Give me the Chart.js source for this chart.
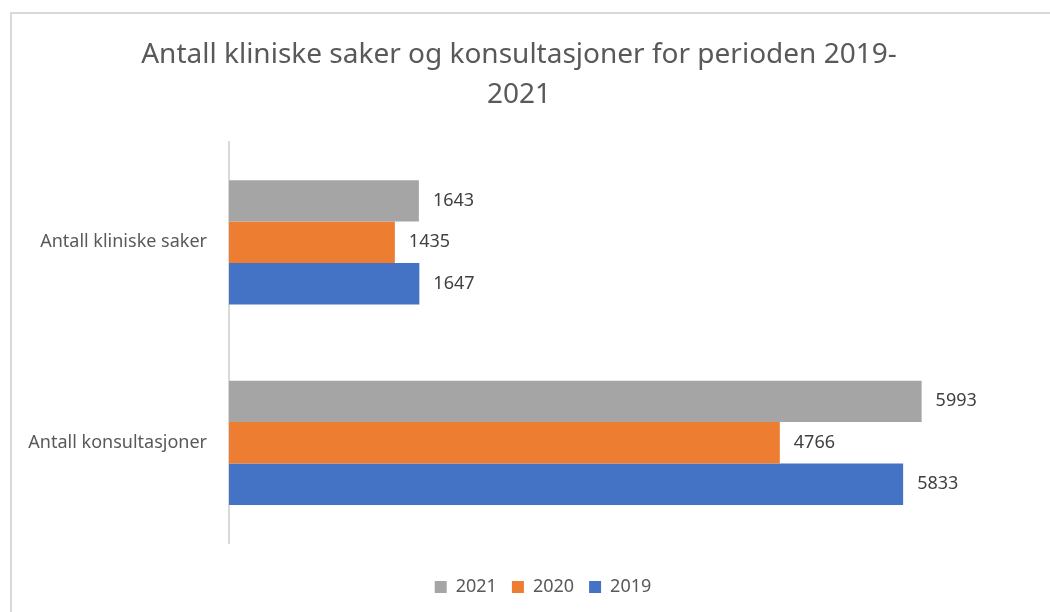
<!DOCTYPE html>
<html lang="no">
  <head>
    <meta charset="UTF-8" />
    <script src="https://cdn.jsdelivr.net/npm/chart.js"></script>
    <title>Antall kliniske saker og konsultasjoner</title>
    <style>
      html, body { margin: 0; padding: 0; background: #fff; overflow: hidden; }
      #wrap { position: absolute; left: 0; top: 0; width: 1050px; height: 612px; }
      #frame {
        position: absolute; left: 10px; top: 12px; width: 1060px; height: 620px;
        border-left: 2px solid #d9d9d9; border-top: 2px solid #d9d9d9;
        pointer-events: none;
      }
    </style>
  </head>
  <body>
    <div id="wrap"><canvas id="myChart"></canvas></div>
    <div id="frame"></div>

    <script>
      const categories = ["Antall kliniske saker", "Antall konsultasjoner"];
      const years = ["2021", "2020", "2019"];
      const values2021 = [1643, 5993];
      const values2020 = [1435, 4766];
      const values2019 = [1647, 5833];
      const titleLines = ["Antall kliniske saker og konsultasjoner for perioden 2019-", "2021"];

      const textColor = "#595959";

      // draws the value next to the end of every bar
      const barValues = {
        id: "barValues",
        afterDatasetsDraw(chart) {
          const ctx = chart.ctx;
          ctx.save();
          ctx.font = "18px 'Noto Sans'";
          ctx.fillStyle = "#404040";
          ctx.textAlign = "left";
          ctx.textBaseline = "middle";
          chart.data.datasets.forEach((ds, i) => {
            chart.getDatasetMeta(i).data.forEach((bar, j) => {
              ctx.fillText(ds.data[j], bar.x + 14, bar.y);
            });
          });
          ctx.restore();
        },
      };

      // legend sits a bit right of the canvas centre in the original
      const legendShift = {
        id: "legendShift",
        afterLayout(chart) {
          if (chart.legend) chart.legend.left += 48;
        },
      };

      const ctx = document.getElementById("myChart");

      new Chart(ctx, {
        type: "bar",
        data: {
          labels: categories,
          datasets: [
            { label: years[0], data: values2021, backgroundColor: "#a5a5a5" },
            { label: years[1], data: values2020, backgroundColor: "#ed7d31" },
            { label: years[2], data: values2019, backgroundColor: "#4472c4" },
          ],
        },
        options: {
          indexAxis: "y",
          responsive: true,
          maintainAspectRatio: false,
          animation: false,
          categoryPercentage: 0.62,
          barPercentage: 1.0,
          layout: { padding: { left: 0, right: 12, top: 0, bottom: 6 } },
          scales: {
            x: {
              // hidden axis, only used to keep a gap above the legend
              min: 0,
              max: 7000,
              grid: { display: false, drawTicks: false },
              border: { display: false },
              ticks: { display: false },
              afterFit: (scale) => {
                scale.height = 20;
              },
            },
            y: {
              grid: { display: false, drawTicks: false },
              border: { display: true, color: "#d9d9d9", width: 2 },
              ticks: {
                color: textColor,
                font: { family: "'Noto Sans'", size: 18 },
                padding: 22,
              },
              afterFit: (scale) => {
                scale.width = 229;
              },
            },
          },
          plugins: {
            title: {
              display: true,
              text: titleLines,
              color: textColor,
              font: { family: "'Noto Sans'", size: 28, weight: "normal", lineHeight: 1.43 },
              padding: { top: 35, bottom: 27 },
            },
            legend: {
              position: "bottom",
              labels: {
                color: textColor,
                font: { family: "'Noto Sans'", size: 18 },
                boxWidth: 12,
                boxHeight: 12,
                padding: 15,
              },
            },
            tooltip: { enabled: false },
          },
        },
        plugins: [barValues, legendShift],
      });
    </script>
  </body>
</html>
